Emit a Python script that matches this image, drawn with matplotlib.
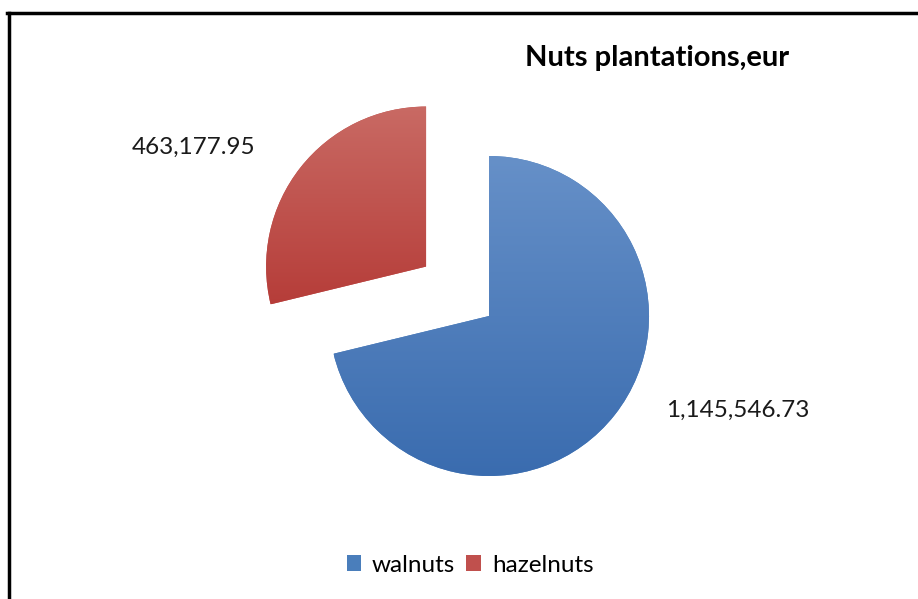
import matplotlib
matplotlib.use("Agg")
import numpy as np
import matplotlib.pyplot as plt
from matplotlib.lines import Line2D
from matplotlib.patches import Patch
from matplotlib.colors import LinearSegmentedColormap

plt.rcParams['font.family'] = ['Lato', 'DejaVu Sans']

# data
categories = ['walnuts', 'hazelnuts']
values = [1145546.73, 463177.95]
value_labels = ['1,145,546.73', '463,177.95']
colors = ['#4a7ebb', '#c0504d']
top_colors = ['#6690c8', '#c96a64']
bottom_colors = ['#3a6caf', '#b63d39']
explode = [0, 0.5]

W, H = 918, 599
fig = plt.figure(figsize=(W / 100, H / 100), dpi=100)

# pie centre and radius in pixels
cx, cy, r = 489, 316, 160
# axes spans +-2 radius so the exploded slice is not clipped
ax = fig.add_axes([(cx - 2 * r) / W, (H - cy - 2 * r) / H, 4 * r / W, 4 * r / H])
wedges, _ = ax.pie(values, colors=colors, explode=explode, startangle=90, counterclock=False,
                   radius=1, wedgeprops=dict(linewidth=0))

# vertical gradient fill, like the office chart
grad = np.linspace(1, 0, 256).reshape(-1, 1)
for w, ct, cb in zip(wedges, top_colors, bottom_colors):
    ext = w.get_path().get_extents()
    cmap = LinearSegmentedColormap.from_list('g', [cb, ct])
    im = ax.imshow(grad, cmap=cmap, extent=[ext.x0, ext.x1, ext.y0, ext.y1],
                   aspect='auto', origin='upper', zorder=w.get_zorder() + 0.1)
    im.set_clip_path(w)

ax.set_xlim(-2, 2)
ax.set_ylim(-2, 2)
ax.set_aspect('equal')
ax.axis('off')

# data labels
fig.text(738 / W, 1 - 410 / H, value_labels[0], ha='center', va='center', fontsize=17.5, color='#1a1a1a')
fig.text(194 / W, 1 - 147 / H, value_labels[1], ha='center', va='center', fontsize=17.5, color='#1a1a1a')

# title
fig.text(657 / W, 1 - 58 / H, 'Nuts plantations,eur', ha='center', va='center',
         fontsize=21, fontweight='bold', color='black')

# legend
handles = [Patch(facecolor=c, edgecolor='none') for c in colors]
fig.legend(handles, categories, loc='center', bbox_to_anchor=(470 / W, 1 - 565 / H), ncol=2,
           frameon=False, fontsize=17.5, handlelength=0.6, handleheight=0.6,
           handletextpad=0.45, columnspacing=0.45)

# chart border (left and top visible)
fig.add_artist(Line2D([8.5 / W, 8.5 / W], [0, 1 - 12.5 / H], color='black', linewidth=2.5,
                      transform=fig.transFigure))
fig.add_artist(Line2D([7 / W, 1], [1 - 12.5 / H, 1 - 12.5 / H], color='black', linewidth=2.5,
                      transform=fig.transFigure))

fig.savefig('out.png', dpi=100, facecolor='white')
